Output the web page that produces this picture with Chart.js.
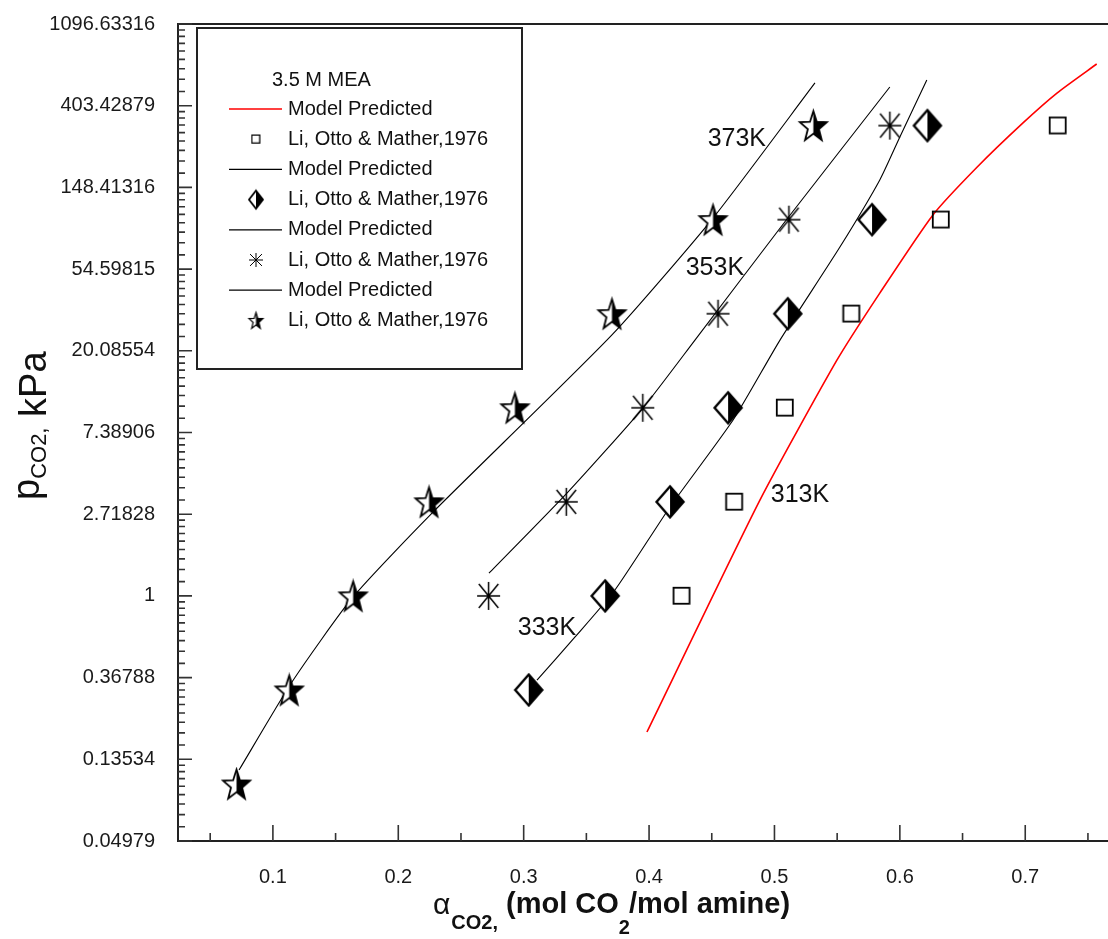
<!DOCTYPE html>
<html lang="en">
<head>
  <meta charset="UTF-8">
  <title>CO2 solubility in 3.5 M MEA</title>
  <script src="https://cdn.jsdelivr.net/npm/chart.js"></script>
  <style>
    html, body { margin: 0; padding: 0; background: #fff; overflow: hidden; }
    #wrap { width: 1108px; height: 939px; }
  </style>
</head>
<body>

<div id="wrap"><canvas id="grafico" width="1108" height="939"></canvas></div>

<script>
  // Li, Otto & Mather, 1976 (loading, kPa)
  const alphaExp313 = [0.426, 0.468, 0.5084, 0.5614, 0.6328, 0.726];
  const pExp313     = [1, 3.162, 10, 31.62, 100, 316.2];
  const alphaExp333 = [0.304, 0.365, 0.4167, 0.463, 0.5106, 0.5778, 0.622];
  const pExp333     = [0.3162, 1, 3.162, 10, 31.62, 100, 316.2];
  const alphaExp353 = [0.272, 0.334, 0.395, 0.455, 0.5115, 0.592];
  const pExp353     = [1, 3.162, 10, 31.62, 100, 316.2];
  const alphaExp373 = [0.071, 0.113, 0.164, 0.2245, 0.293, 0.3704, 0.451, 0.531];
  const pExp373     = [0.1, 0.3162, 1, 3.162, 10, 31.62, 100, 316.2];

  // model curves
  const alphaMod313 = [0.3983, 0.4884, 0.5498, 0.584, 0.6264, 0.6615, 0.698, 0.7253, 0.757];
  const pMod313     = [0.189, 3.23, 17.9, 40.7, 106, 190, 326, 471, 672];
  const alphaMod333 = [0.3106, 0.341, 0.3728, 0.4167, 0.467, 0.5044, 0.5522, 0.584, 0.600, 0.6215];
  const pMod333     = [0.357, 0.605, 1.075, 2.97, 8.61, 22.9, 71.5, 162.5, 275, 553];
  const alphaMod353 = [0.2723, 0.3345, 0.3951, 0.4366, 0.51, 0.592];
  const pMod353     = [1.32, 3.52, 9.97, 22.9, 100.8, 507];
  const alphaMod373 = [0.073, 0.1152, 0.1639, 0.2277, 0.3704, 0.451, 0.5323];
  const pMod373     = [0.1187, 0.3486, 0.987, 2.79, 24.4, 102, 533];

  // axes
  const xTicks = [0.1, 0.2, 0.3, 0.4, 0.5, 0.6, 0.7];
  const xTickLabels = ['0.1', '0.2', '0.3', '0.4', '0.5', '0.6', '0.7'];
  const yTicks = [0.04979, 0.13534, 0.36788, 1, 2.71828, 7.38906, 20.08554, 54.59815, 148.41316, 403.42879, 1096.63316];
  const yTickLabels = ['0.04979', '0.13534', '0.36788', '1', '2.71828', '7.38906', '20.08554', '54.59815', '148.41316', '403.42879', '1096.63316'];

  // temperature labels
  const tempLabels = ['373K', '353K', '333K', '313K'];
  const tempAlpha  = [0.470, 0.4525, 0.3186, 0.5203];
  const tempP      = [268, 55.3, 0.675, 3.44];

  const FONT = "'Liberation Sans', Arial, sans-serif";

  function pts(xs, ys) {
    return xs.map((x, i) => ({ x: x, y: ys[i] }));
  }

  function novoCanvas(w, h) {
    const c = document.createElement('canvas');
    c.width = Math.ceil(w); c.height = Math.ceil(h);
    return c;
  }

  function openSquare(s, lw) {
    const c = novoCanvas(s + lw * 2, s + lw * 2);
    const g = c.getContext('2d');
    g.strokeStyle = '#000'; g.lineWidth = lw;
    g.strokeRect(lw, lw, s, s);
    return c;
  }

  function halfDiamond(w, h, lw) {
    const c = novoCanvas(w + lw * 2 + 2, h + lw * 2 + 2);
    const g = c.getContext('2d');
    const cx = c.width / 2, cy = c.height / 2;
    const losango = () => {
      g.beginPath();
      g.moveTo(cx, cy - h / 2); g.lineTo(cx + w / 2, cy); g.lineTo(cx, cy + h / 2); g.lineTo(cx - w / 2, cy);
      g.closePath();
    };
    losango(); g.fillStyle = '#fff'; g.fill();
    g.beginPath();
    g.moveTo(cx, cy - h / 2); g.lineTo(cx + w / 2, cy); g.lineTo(cx, cy + h / 2);
    g.closePath();
    g.fillStyle = '#000'; g.fill();
    losango(); g.strokeStyle = '#000'; g.lineWidth = lw; g.lineJoin = 'miter'; g.stroke();
    return c;
  }

  function asterisk(w, h, lw) {
    const c = novoCanvas(w + 2, h + 2);
    const g = c.getContext('2d');
    const cx = c.width / 2, cy = c.height / 2;
    const dx = w / 2 * 0.85, dy = h / 2 * 0.85;
    g.strokeStyle = '#000'; g.lineWidth = lw;
    g.beginPath();
    g.moveTo(cx, cy - h / 2); g.lineTo(cx, cy + h / 2);
    g.moveTo(cx - w / 2, cy); g.lineTo(cx + w / 2, cy);
    g.moveTo(cx - dx, cy - dy); g.lineTo(cx + dx, cy + dy);
    g.moveTo(cx + dx, cy - dy); g.lineTo(cx - dx, cy + dy);
    g.stroke();
    return c;
  }

  function halfStar(w, h, lw) {
    const c = novoCanvas(w + lw * 2 + 2, h + lw * 2 + 2);
    const g = c.getContext('2d');
    const cx = c.width / 2, cy = c.height / 2;
    const R = w / (2 * Math.sin(2 * Math.PI / 5));
    const sy = h / (R * (1 + Math.cos(Math.PI / 5)));
    const mid = (R * Math.cos(Math.PI / 5) - R) / 2;
    const p = [];
    for (let i = 0; i < 10; i++) {
      const a = -Math.PI / 2 + i * Math.PI / 5;
      const r = i % 2 ? R * 0.41 : R;
      p.push([cx + r * Math.cos(a), cy + (r * Math.sin(a) - mid) * sy]);
    }
    const caminho = () => {
      g.beginPath();
      p.forEach((q, i) => i ? g.lineTo(q[0], q[1]) : g.moveTo(q[0], q[1]));
      g.closePath();
    };
    caminho(); g.fillStyle = '#fff'; g.fill();
    g.save();
    g.beginPath(); g.rect(cx, 0, c.width, c.height); g.clip();
    caminho(); g.fillStyle = '#000'; g.fill();
    g.restore();
    caminho(); g.strokeStyle = '#000'; g.lineWidth = lw; g.lineJoin = 'miter'; g.stroke();
    return c;
  }

  const lineBase = { showLine: true, pointRadius: 0, pointHoverRadius: 0, tension: 0.2, fill: false };

  const datasets = [
    Object.assign({ label: 'Model Predicted', data: pts(alphaMod313, pMod313), borderColor: '#ff0000', borderWidth: 1.6 }, lineBase),
    { label: 'Li, Otto & Mather,1976', data: pts(alphaExp313, pExp313), showLine: false,
      pointStyle: openSquare(16, 1.8), legendMarker: openSquare(8, 1.3) },
    Object.assign({ label: 'Model Predicted', data: pts(alphaMod333, pMod333), borderColor: '#000', borderWidth: 1.1 }, lineBase),
    { label: 'Li, Otto & Mather,1976', data: pts(alphaExp333, pExp333), showLine: false,
      pointStyle: halfDiamond(27, 31, 2.4), legendMarker: halfDiamond(14, 18, 1.8) },
    Object.assign({ label: 'Model Predicted', data: pts(alphaMod353, pMod353), borderColor: '#000', borderWidth: 1.1 }, lineBase),
    { label: 'Li, Otto & Mather,1976', data: pts(alphaExp353, pExp353), showLine: false,
      pointStyle: asterisk(23, 28, 1.5), legendMarker: asterisk(14, 14, 1) },
    Object.assign({ label: 'Model Predicted', data: pts(alphaMod373, pMod373), borderColor: '#000', borderWidth: 1.1 }, lineBase),
    { label: 'Li, Otto & Mather,1976', data: pts(alphaExp373, pExp373), showLine: false,
      pointStyle: halfStar(27, 29, 1.8), legendMarker: halfStar(14, 16, 1.2) }
  ];
  datasets.forEach(d => { if (!d.showLine) { d.pointRadius = 12; d.pointHoverRadius = 12; d.order = 0; } else { d.order = 1; } });

  // axes box, inner ticks, legend box, titles and temperature labels
  const decoracao = {
    id: 'decoracao',
    afterDraw(chart) {
      const { ctx, chartArea: a } = chart;
      const x = chart.scales.x, y = chart.scales.y;
      ctx.save();
      ctx.strokeStyle = '#222';
      ctx.lineWidth = 2;
      ctx.beginPath();
      ctx.moveTo(a.right, a.top); ctx.lineTo(a.left, a.top);
      ctx.lineTo(a.left, a.bottom); ctx.lineTo(a.right, a.bottom);
      ctx.stroke();

      ctx.lineWidth = 1.6;
      ctx.strokeStyle = '#333';
      ctx.beginPath();
      for (let i = 0; i < yTicks.length; i++) {
        const py = y.getPixelForValue(yTicks[i]);
        ctx.moveTo(a.left, py); ctx.lineTo(a.left + 14, py);
        if (i < yTicks.length - 1) {
          const lo = yTicks[i], hi = yTicks[i + 1];
          for (let k = 1; k < 9; k++) {
            const pm = y.getPixelForValue(lo + (hi - lo) * k / 9);
            ctx.moveTo(a.left, pm); ctx.lineTo(a.left + 7, pm);
          }
        }
      }
      for (let v = 0.05; v < x.max; v += 0.05) {
        if (v < x.min) continue;
        const px = x.getPixelForValue(v);
        const major = Math.abs(v * 10 - Math.round(v * 10)) < 1e-6;
        ctx.moveTo(px, a.bottom); ctx.lineTo(px, a.bottom - (major ? 16 : 8));
      }
      ctx.stroke();

      // temperature labels
      ctx.fillStyle = '#111';
      ctx.font = '25px ' + FONT;
      ctx.textAlign = 'center';
      ctx.textBaseline = 'middle';
      tempLabels.forEach((t, i) => {
        ctx.fillText(t, x.getPixelForValue(tempAlpha[i]), y.getPixelForValue(tempP[i]));
      });

      // legend
      const L = a.left + 19, T = a.top + 4;
      ctx.strokeStyle = '#222';
      ctx.lineWidth = 2;
      ctx.strokeRect(L, T, 325, 341);
      ctx.font = '20px ' + FONT;
      ctx.textAlign = 'left';
      ctx.fillText('3.5 M MEA', L + 75, T + 52);
      chart.data.datasets.forEach((d, i) => {
        const ry = T + 81 + i * 30.2;
        if (d.showLine) {
          ctx.strokeStyle = d.borderColor;
          ctx.lineWidth = 1.3;
          ctx.beginPath(); ctx.moveTo(L + 32, ry); ctx.lineTo(L + 85, ry); ctx.stroke();
        } else {
          const m = d.legendMarker;
          ctx.drawImage(m, L + 59 - m.width / 2, ry - m.height / 2);
        }
        ctx.fillStyle = '#111';
        ctx.fillText(d.label, L + 91, ry);
      });

      // y title
      ctx.save();
      ctx.translate(39, 500);
      ctx.rotate(-Math.PI / 2);
      ctx.textBaseline = 'alphabetic';
      ctx.textAlign = 'left';
      let cx = 0;
      ctx.font = '38px ' + FONT;
      ctx.fillText('p', cx, 0); cx += ctx.measureText('p').width;
      ctx.font = '22px ' + FONT;
      ctx.fillText('CO2,', cx, 7); cx += ctx.measureText('CO2,').width;
      ctx.font = '38px ' + FONT;
      ctx.fillText(' kPa', cx, 7);
      ctx.restore();

      // x title
      ctx.textBaseline = 'alphabetic';
      ctx.textAlign = 'left';
      let tx = 433;
      ctx.font = '30px ' + FONT;
      ctx.fillText('\u03b1', tx, 914); tx += ctx.measureText('\u03b1').width + 1;
      ctx.font = 'bold 20px ' + FONT;
      ctx.fillText('CO2,', tx, 929); tx += ctx.measureText('CO2,').width;
      ctx.font = 'bold 29px ' + FONT;
      ctx.fillText(' (mol CO', tx, 913); tx += ctx.measureText(' (mol CO').width;
      ctx.font = 'bold 20px ' + FONT;
      ctx.fillText('2', tx, 934); tx += ctx.measureText('2').width - 1;
      ctx.font = 'bold 29px ' + FONT;
      ctx.fillText('/mol amine)', tx, 913);
      ctx.restore();
    }
  };

  new Chart(document.getElementById('grafico').getContext('2d'), {
    type: 'scatter',
    data: { datasets: datasets },
    plugins: [decoracao],
    options: {
      responsive: false,
      animation: false,
      devicePixelRatio: 1,
      layout: { autoPadding: false, padding: { left: 0, right: 0, top: 24, bottom: 0 } },
      plugins: { legend: { display: false }, tooltip: { enabled: false } },
      scales: {
        x: {
          type: 'linear',
          min: 0.02432,
          max: 0.766,
          grid: { display: false },
          border: { display: false },
          afterBuildTicks: s => { s.ticks = xTicks.map(v => ({ value: v })); },
          afterFit: s => { s.height = 98; s.paddingLeft = 0; s.paddingRight = 0; },
          ticks: {
            autoSkip: false, maxRotation: 0, padding: 16, color: '#1a1a1a',
            font: { family: FONT, size: 20 },
            callback: (v, i) => xTickLabels[i]
          }
        },
        y: {
          type: 'logarithmic',
          min: yTicks[0],
          max: yTicks[yTicks.length - 1],
          grid: { display: false },
          border: { display: false },
          afterBuildTicks: s => { s.ticks = yTicks.map(v => ({ value: v })); },
          afterFit: s => { s.width = 178; s.paddingTop = 0; s.paddingBottom = 0; },
          ticks: {
            autoSkip: false, padding: 15, color: '#1a1a1a',
            font: { family: FONT, size: 20 },
            callback: (v, i) => yTickLabels[i]
          }
        }
      }
    }
  });
</script>

</body>
</html>
